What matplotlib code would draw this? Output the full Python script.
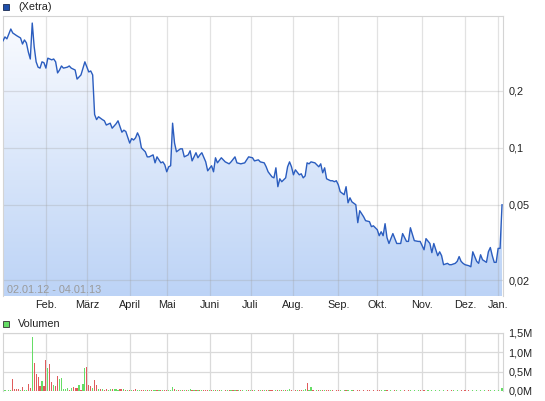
import numpy as np
import matplotlib
matplotlib.use("Agg")
import matplotlib.pyplot as plt
from matplotlib.colors import LinearSegmentedColormap
from matplotlib.patches import Rectangle, Polygon
from matplotlib.ticker import NullLocator

plt.rcParams['font.family'] = ['Liberation Sans', 'DejaVu Sans']

# trading-day index (0 = 02.01.12) and close price in EUR
price_day = [0, 1, 2, 4, 5, 7, 9, 10, 11, 12,
             13, 14, 15, 16, 17, 18, 19, 20, 21, 22,
             23, 25, 26, 27, 28, 29, 30, 31, 33, 34,
             35, 37, 38, 40, 42, 44, 45, 46, 47, 48,
             49, 51, 52, 53, 55, 56, 58, 59, 61, 62,
             63, 65, 66, 67, 68, 69, 70, 71, 73, 74,
             75, 77, 78, 79, 81, 82, 83, 84, 85, 86,
             87, 88, 89, 91, 92, 93, 95, 96, 97, 99,
             100, 101, 102, 104, 105, 107, 108, 109, 110, 112,
             114, 116, 117, 119, 120, 122, 124, 126, 128, 129,
             131, 132, 134, 135, 136, 138, 139, 140, 141, 142,
             143, 145, 146, 147, 148, 149, 150, 152, 153, 154,
             155, 156, 157, 158, 160, 162, 163, 164, 165, 166,
             168, 169, 170, 171, 172, 173, 175, 176, 177, 178,
             179, 181, 182, 183, 185, 186, 188, 189, 190, 192,
             193, 194, 195, 196, 197, 198, 200, 202, 204, 205,
             207, 208, 209, 211, 213, 214, 216, 217, 219, 220,
             221, 223, 224, 225, 226, 228, 229, 230, 232, 233,
             234, 235, 236, 237, 239, 240, 241, 243, 244, 245,
             246, 248, 249, 250, 251, 252, 253, 254, 255, 256]
price = [.368, .386, .377, .425, .405, .392, .381, .354, .372, .359,
         .321, .295, .457, .342, .285, .267, .264, .285, .282, .264,
         .298, .292, .295, .285, .249, .258, .271, .264, .267, .271,
         .264, .258, .231, .243, .285, .252, .255, .243, .150, .141,
         .146, .141, .139, .132, .135, .127, .134, .139, .121, .124,
         .122, .106, .112, .110, .113, .120, .114, .100, .0953, .0896,
         .0896, .0918, .0833, .0896, .0833, .0843, .0813, .0747, .0794, .0804,
         .135, .106, .0953, .0988, .0988, .0896, .0918, .0965, .0853, .0942,
         .0886, .0918, .0942, .0843, .0756, .0804, .0747, .0886, .0833, .0886,
         .0843, .0823, .0843, .0896, .0833, .0823, .0833, .0896, .0886, .0853,
         .0864, .0843, .0833, .0794, .0747, .0702, .0694, .0784, .0623, .0686,
         .0662, .0694, .0794, .0843, .0794, .0720, .0765, .0720, .0729, .0694,
         .0711, .0833, .0823, .0843, .0833, .0794, .0823, .0738, .0784, .0686,
         .0670, .0670, .0662, .0670, .0638, .0586, .0565, .0623, .0512, .0544,
         .0518, .0500, .0402, .0465, .0432, .0412, .0407, .0383, .0387, .0369,
         .0343, .0360, .0343, .0397, .0335, .0312, .0352, .0312, .0312, .0352,
         .0320, .0320, .0378, .0323, .0320, .0320, .0289, .0331, .0312, .0279,
         .0312, .0269, .0282, .0269, .0241, .0245, .0241, .0241, .0245, .0251,
         .0266, .0251, .0245, .0241, .0238, .0235, .0282, .0251, .0245, .0272,
         .0256, .0248, .0282, .0297, .0269, .0248, .0248, .0294, .0294, .0500]

# daily volume in thousand shares, one per trading day
volume = [10, 15, 10, 20, 20, 310, 50, 40, 40, 20, 100, 30, 30, 180, 80, 1400, 720, 440, 370, 140,
          270, 140, 790, 600, 710, 220, 160, 140, 400, 310, 340, 60, 60, 90, 30, 70, 100, 90, 90, 160,
          30, 190, 600, 620, 160, 120, 90, 280, 160, 40, 60, 60, 30, 60, 30, 60, 40, 60, 60, 30,
          50, 50, 50, 20, 15, 30, 20, 15, 50, 20, 30, 20, 20, 15, 20, 20, 15, 25, 20, 25,
          15, 20, 20, 15, 20, 25, 20, 110, 50, 30, 20, 20, 15, 25, 20, 20, 50, 20, 15, 20,
          15, 20, 20, 20, 30, 30, 20, 15, 20, 15, 20, 20, 15, 10, 20, 15, 20, 15, 20, 15,
          20, 15, 15, 20, 10, 15, 20, 15, 20, 15, 10, 15, 20, 15, 20, 15, 15, 20, 15, 10,
          15, 20, 15, 20, 15, 20, 15, 60, 15, 10, 15, 20, 15, 15, 20, 50, 210, 30, 100, 15,
          10, 15, 20, 15, 30, 15, 20, 15, 30, 15, 10, 20, 25, 15, 10, 15, 20, 15, 10, 15,
          15, 10, 15, 20, 10, 15, 10, 15, 20, 10, 15, 10, 15, 20, 15, 10, 15, 15, 10, 15,
          10, 15, 20, 10, 15, 10, 15, 10, 20, 15, 10, 15, 10, 15, 20, 10, 15, 10, 15, 10,
          15, 10, 15, 10, 20, 10, 15, 10, 15, 10, 15, 20, 10, 15, 10, 15, 10, 15, 10, 15,
          10, 15, 10, 20, 10, 15, 10, 15, 10, 15, 20, 10, 15, 10, 15, 10, 90]
# g = up day, r = down day
vol_dir = ("gggggrrrrgrggrrgrrrr" "grrgrrgrrgggggrgrrrg" "rggrrrgrrgrgrrggrggg"
           "rrgrgrgrrggrrgrgrggr" "grgrrgggrgrgrgrggrgr" "grgrrrgrgrgrggrgrgrg"
           "rgrgrgrgrggrgrgrgrrg" "grgrgrggrgrgrrggrggr" "rgrgrgrrgrrrrgrgrgrg"
           "rgrrgrgrrgrgrrgrgrrg" "grgrgrrgrgrgrgrgrrgr" "grgrgrgrrgrgrgrrgrgr"
           "rgrgrgrgrrgrgrggg")

month_day = [22, 43, 65, 84, 106, 127, 149, 172, 192, 215, 237, 254]
month_labels = ['Feb.', 'März', 'April', 'Mai', 'Juni', 'Juli', 'Aug.',
                'Sep.', 'Okt.', 'Nov.', 'Dez.', 'Jan.']
price_ticks = [0.02, 0.05, 0.1, 0.2]
price_tick_labels = ['0,02', '0,05', '0,1', '0,2']
vol_ticks = [0, 0.5, 1.0, 1.5]
vol_tick_labels = ['0,0M', '0,5M', '1,0M', '1,5M']

W, H = 545, 401
FS = 7.8
fig = plt.figure(figsize=(W / 100, H / 100), dpi=100)
ax = fig.add_axes([3 / W, 1 - 296 / H, 500 / W, 280 / H])
axv = fig.add_axes([3 / W, 1 - 391 / H, 500 / W, 58 / H])

ymin, ymax = 0.01646, 0.498
xmax = 256.5
ax.set_yscale('log')

# gradient fill under the price line
cmap = LinearSegmentedColormap.from_list('fill', ['#bcd3f6', '#fbfcff'])
grad = np.linspace(0, 1, 256).reshape(-1, 1)
im = ax.imshow(grad, extent=[0, 1, 0, 1], transform=ax.transAxes, origin='lower',
               aspect='auto', cmap=cmap, zorder=1)
verts = [(price_day[0], ymin)] + list(zip(price_day, price)) + [(price_day[-1], ymin)]
poly = Polygon(verts, closed=True, facecolor='none', edgecolor='none', transform=ax.transData)
ax.add_patch(poly)
im.set_clip_path(poly)

ax.plot(price_day, price, color='#2b5dbf', lw=1.0, zorder=3)

ax.set_xlim(0, xmax)
ax.set_ylim(ymin, ymax)
ax.set_yticks(price_ticks)
ax.set_yticklabels(price_tick_labels)
ax.yaxis.set_minor_locator(NullLocator())
ax.yaxis.tick_right()
ax.set_xticks(month_day)
ax.set_xticklabels(month_labels)
ax.tick_params(axis='both', length=0, labelsize=FS, colors='#222222')
ax.tick_params(axis='x', pad=3)
ax.tick_params(axis='y', pad=4)
ax.grid(True, color='#a0a0a0', alpha=0.3, lw=0.9, zorder=1.5)
for s in ['left', 'top', 'right']:
    ax.spines[s].set_color('#d4d4d4')
ax.spines['bottom'].set_visible(False)
ax.text(0.008, 0.022, '02.01.12 - 04.01.13', transform=ax.transAxes,
        fontsize=FS, color='#9a9a9a', va='center', ha='left', zorder=4)

# volume panel
vol_m = np.array(volume) / 1000.0
vol_colors = ['#66dd66' if c == 'g' else '#e05c5c' for c in vol_dir]
axv.bar(np.arange(len(volume)), vol_m, width=0.6, color=vol_colors, zorder=3,
        antialiased=False)
axv.set_xlim(0, xmax)
axv.set_ylim(0, 1.5)
axv.set_yticks(vol_ticks)
axv.set_yticklabels(vol_tick_labels)
axv.yaxis.tick_right()
axv.set_xticks(month_day)
axv.set_xticklabels([])
axv.tick_params(axis='both', length=0, labelsize=FS, colors='#222222')
axv.tick_params(axis='y', pad=4)
axv.grid(True, color='#dadada', lw=0.9, zorder=1)
axv.set_axisbelow(True)
for s in ['left', 'top', 'right']:
    axv.spines[s].set_color('#d4d4d4')
axv.spines['bottom'].set_visible(False)

# legend boxes
fig.add_artist(Rectangle((3 / W, 1 - 10 / H), 6 / W, 6 / H, transform=fig.transFigure,
                         facecolor='#1f4faa', edgecolor='#1a2a50', lw=0.6))
fig.text(18 / W, 1 - 7 / H, '(Xetra)', fontsize=FS, va='center', ha='left', color='#222222')
fig.add_artist(Rectangle((3 / W, 1 - 327 / H), 6 / W, 6 / H, transform=fig.transFigure,
                         facecolor='#66dd66', edgecolor='#333333', lw=0.6))
fig.text(18 / W, 1 - 324 / H, 'Volumen', fontsize=FS, va='center', ha='left', color='#222222')

fig.savefig('out.png', dpi=100)
